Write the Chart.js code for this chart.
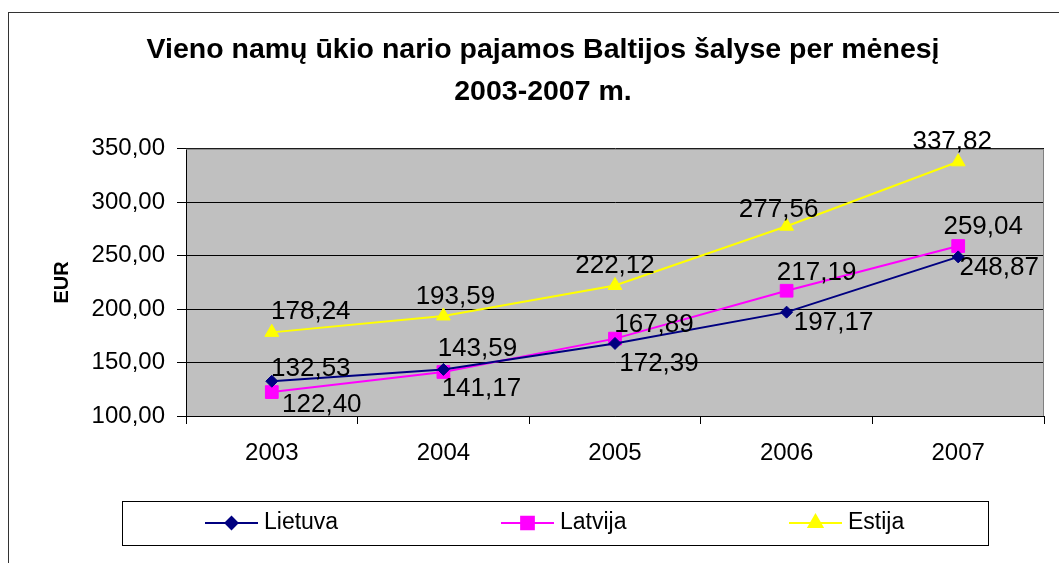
<!DOCTYPE html>
<html>
<head>
<meta charset="utf-8">
<script src="https://cdn.jsdelivr.net/npm/chart.js@4/dist/chart.umd.min.js"></script>
<style>
  html, body { margin: 0; padding: 0; background: #fff; }
  canvas { display: block; }
</style>
</head>
<body>
<canvas id="chart" width="1059" height="563"></canvas>
<script>
const years = ["2003", "2004", "2005", "2006", "2007"];
const lietuva = [132.53, 143.59, 167.89, 197.17, 248.87];
const latvija = [122.40, 141.17, 172.39, 217.19, 259.04];
const estija = [178.24, 193.59, 222.12, 277.56, 337.82];
const seriesNames = ["Lietuva", "Latvija", "Estija"];
const titleLines = ["Vieno namų ūkio nario pajamos Baltijos šalyse per mėnesį", "2003-2007 m."];

const FONT = "'Liberation Sans', Arial, sans-serif";
const fmt = (v) => v.toFixed(2).replace(".", ",");

// label nudges (px) relative to each point, like the hand-moved labels in the original
const labelShift = [
  [[39, -12], [34, -21], [39, -19], [47, 11], [41, 11]],
  [[50, 13], [38, 17], [44, 25], [30, -18], [25, -19]],
  [[39, -21], [12, -19], [0, -20], [-8, -16], [-6, -20]],
];

const frame = {
  id: "frame",
  beforeDraw(chart) {
    const { ctx, chartArea: a } = chart;
    ctx.save();
    ctx.strokeStyle = "#333";
    ctx.lineWidth = 1;
    ctx.strokeRect(8.5, 12.5, 1200, 700);
    ctx.fillStyle = "#c0c0c0";
    ctx.fillRect(a.left, a.top, a.right - a.left, a.bottom - a.top);
    ctx.restore();
  },
  beforeDatasetsDraw(chart) {
    const { ctx, chartArea: a } = chart;
    ctx.save();
    ctx.strokeStyle = "#808080";
    ctx.lineWidth = 1;
    ctx.beginPath();
    ctx.moveTo(a.left, a.top + 0.5);
    ctx.lineTo(a.right - 0.5, a.top + 0.5);
    ctx.lineTo(a.right - 0.5, a.bottom);
    ctx.stroke();
    ctx.restore();
  },
};

const valueLabels = {
  id: "valueLabels",
  afterDatasetsDraw(chart) {
    const ctx = chart.ctx;
    ctx.save();
    ctx.font = "26px " + FONT;
    ctx.fillStyle = "#000";
    ctx.textAlign = "center";
    ctx.textBaseline = "middle";
    chart.data.datasets.forEach((ds, i) => {
      chart.getDatasetMeta(i).data.forEach((pt, j) => {
        const s = labelShift[i][j];
        ctx.fillText(fmt(ds.data[j]), pt.x + s[0], pt.y + s[1]);
      });
    });
    ctx.restore();
  },
};

const boxLegend = {
  id: "boxLegend",
  afterDraw(chart) {
    const ctx = chart.ctx;
    const box = { left: 122, top: 501, right: 988, bottom: 545 };
    const itemX = [205, 501, 789];
    const cy = (box.top + box.bottom) / 2;
    ctx.save();
    ctx.fillStyle = "#fff";
    ctx.fillRect(box.left, box.top, box.right - box.left, box.bottom - box.top);
    ctx.strokeStyle = "#000";
    ctx.lineWidth = 1;
    ctx.strokeRect(box.left + 0.5, box.top + 0.5, box.right - box.left, box.bottom - box.top);
    chart.data.datasets.forEach((ds, i) => {
      const x0 = itemX[i];
      ctx.strokeStyle = ds.borderColor;
      ctx.lineWidth = 2;
      ctx.beginPath();
      ctx.moveTo(x0, cy);
      ctx.lineTo(x0 + 53, cy);
      ctx.stroke();
      ctx.fillStyle = ds.pointBackgroundColor;
      Chart.helpers.drawPoint(ctx, {
        pointStyle: ds.pointStyle,
        radius: ds.pointRadius,
        rotation: 0,
        borderWidth: 1,
      }, x0 + 26.5, cy);
      ctx.fillStyle = "#000";
      ctx.font = "23px " + FONT;
      ctx.textAlign = "left";
      ctx.textBaseline = "middle";
      ctx.fillText(ds.label, x0 + 59, cy);
    });
    ctx.restore();
  },
};

function line(label, data, color, style, radius) {
  return {
    label: label,
    data: data,
    borderColor: color,
    backgroundColor: color,
    pointBackgroundColor: color,
    pointBorderColor: color,
    pointStyle: style,
    pointRadius: radius,
    pointHoverRadius: radius,
    pointBorderWidth: 1,
    borderWidth: 2,
    tension: 0,
  };
}

new Chart(document.getElementById("chart"), {
  type: "line",
  data: {
    labels: years,
    datasets: [
      line(seriesNames[0], lietuva, "#000080", "rectRot", 6),
      line(seriesNames[1], latvija, "#ff00ff", "rect", 9),
      line(seriesNames[2], estija, "#ffff00", "triangle", 8),
    ],
  },
  options: {
    responsive: false,
    animation: false,
    layout: { padding: { top: 12, right: 15, left: 42, bottom: 0 } },
    plugins: {
      legend: { display: false },
      tooltip: { enabled: false },
      title: {
        display: true,
        text: titleLines,
        color: "#000",
        font: { family: FONT, size: 28.5, weight: "bold", lineHeight: 1.47 },
        padding: { top: 17, bottom: 36 },
      },
    },
    scales: {
      x: {
        offset: true,
        grid: { offset: true, drawOnChartArea: false, drawTicks: true, tickLength: 8, color: "#000" },
        border: { display: true, color: "#000", width: 1 },
        ticks: { color: "#000", font: { family: FONT, size: 24 }, padding: 15, maxRotation: 0 },
        afterFit: (s) => { s.height = 147; },
      },
      y: {
        min: 100,
        max: 350,
        grid: { color: "#000", tickLength: 9, drawTicks: true },
        border: { display: true, color: "#000", width: 1 },
        ticks: {
          stepSize: 50,
          color: "#000",
          font: { family: FONT, size: 24 },
          padding: 12,
          callback: (v) => fmt(v),
        },
        title: {
          display: true,
          text: "EUR",
          color: "#000",
          font: { family: FONT, size: 20, weight: "bold" },
          padding: { top: 8, bottom: 0 },
        },
        afterFit: (s) => { s.width = 144; },
      },
    },
  },
  plugins: [frame, valueLabels, boxLegend],
});
</script>
</body>
</html>
